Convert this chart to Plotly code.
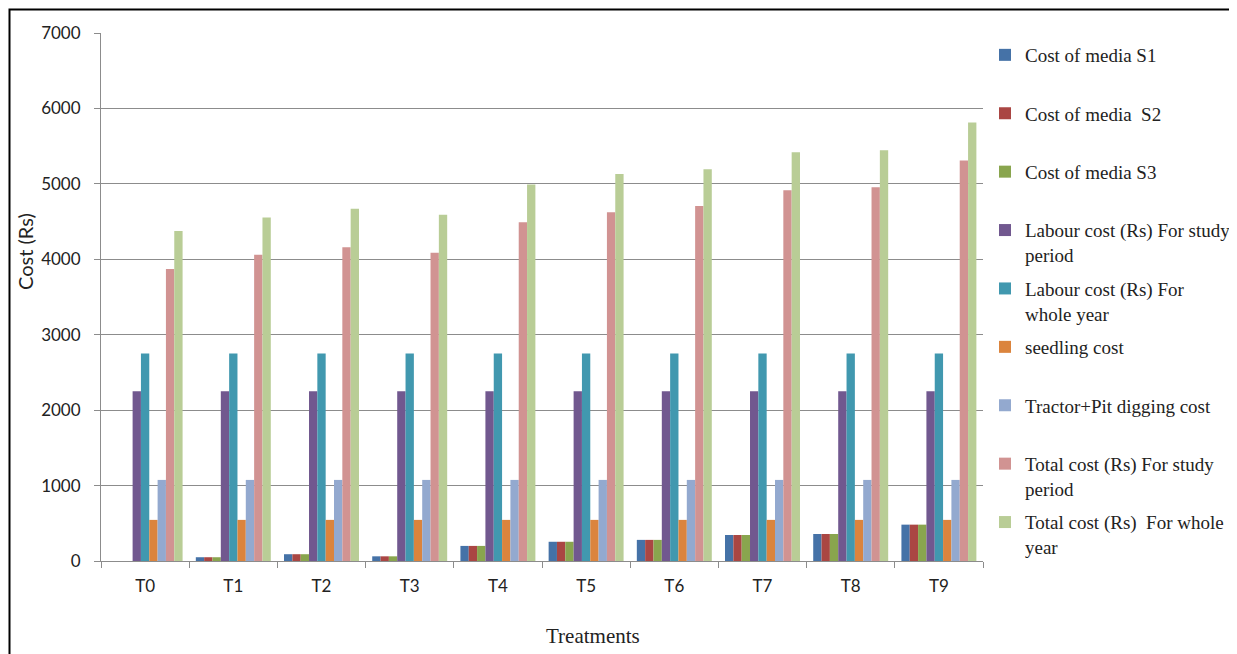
import plotly.graph_objects as go

treatments = ["T0", "T1", "T2", "T3", "T4", "T5", "T6", "T7", "T8", "T9"]

media_s1 = [0, 50, 90, 62, 200, 255, 280, 345, 358, 482]
media_s2 = [0, 50, 90, 62, 200, 255, 280, 345, 358, 482]
media_s3 = [0, 50, 90, 62, 200, 255, 280, 345, 358, 482]
labour_study = [2250] * 10
labour_year = [2750] * 10
seedling = [545] * 10
tractor_pit = [1075] * 10
total_study = [3870, 4060, 4160, 4085, 4490, 4625, 4705, 4915, 4955, 5310]
total_year = [4375, 4555, 4670, 4590, 4990, 5130, 5195, 5420, 5445, 5815]

series_names = [
    "Cost of media S1",
    "Cost of media  S2",
    "Cost of media S3",
    "Labour cost (Rs) For study<br>period",
    "Labour cost (Rs) For<br>whole year",
    "seedling cost",
    "Tractor+Pit digging cost",
    "Total cost (Rs) For study<br>period",
    "Total cost (Rs)  For whole<br>year",
]
series_values = [media_s1, media_s2, media_s3, labour_study, labour_year,
                 seedling, tractor_pit, total_study, total_year]
colors = ["#4572A7", "#AA4643", "#89A54E", "#71588F", "#4198AF",
          "#DB843D", "#93A9CF", "#D19392", "#B9CD96"]

fig = go.Figure()
for i, (name, vals, col) in enumerate(zip(series_names, series_values, colors)):
    label = name if "<br>" in name else name + "<br>\u00a0"
    fig.add_trace(go.Bar(
        x=treatments, y=vals, name=label, marker_color=col,
        marker_line_width=0, legendgroup=f"g{i}",
    ))

W, H = 1229, 646
L, T, PW, PH = 93, 25, 882, 528

fig.update_layout(
    width=W, height=H,
    barmode="group", bargap=0.15, bargroupgap=0,
    plot_bgcolor="white", paper_bgcolor="white",
    margin=dict(l=L, r=W - L - PW, t=T, b=H - T - PH, autoexpand=False),
    showlegend=True,
    legend=dict(
        x=(977 - L) / PW, xanchor="left", y=1.0 - 3 / PH, yanchor="top",
        font=dict(family="Liberation Serif", size=19, color="#222"),
        valign="top", tracegroupgap=6, itemwidth=30,
        bgcolor="rgba(0,0,0,0)",
    ),
    xaxis=dict(
        showline=True, linecolor="#8c8c8c", linewidth=1,
        ticks="outside", tickson="boundaries", ticklen=6, tickcolor="#8c8c8c",
        tickfont=dict(family="Lato", size=17, color="#222"),
        ticklabelstandoff=10,
        showgrid=False,
    ),
    yaxis=dict(
        range=[0, 7000], dtick=1000,
        showline=True, linecolor="#8c8c8c", linewidth=1,
        ticks="outside", ticklen=6, tickcolor="#8c8c8c",
        gridcolor="#8c8c8c", gridwidth=1,
        tickfont=dict(family="Lato", size=17, color="#222"),
        ticklabelstandoff=10,
        zeroline=False,
    ),
    annotations=[
        dict(text="Treatments", xref="paper", yref="paper",
             x=(585 - L) / PW, y=(T + PH - 628) / PH,
             xanchor="center", yanchor="middle", showarrow=False,
             font=dict(family="Liberation Serif", size=21, color="#222")),
        dict(text="Cost (Rs)", xref="paper", yref="paper",
             x=(17 - L) / PW, y=(T + PH - 244) / PH, textangle=-90,
             xanchor="center", yanchor="middle", showarrow=False,
             font=dict(family="Lato", size=20, color="#222")),
    ],
    shapes=[dict(
        type="rect", xref="paper", yref="paper",
        x0=(1.5 - L) / PW, x1=(1300 - L) / PW,
        y0=(T + PH - 700) / PH, y1=(T + PH - 1.5) / PH,
        line=dict(color="black", width=2), fillcolor="rgba(0,0,0,0)",
        layer="above",
    )],
)

fig.write_html("out.html")
